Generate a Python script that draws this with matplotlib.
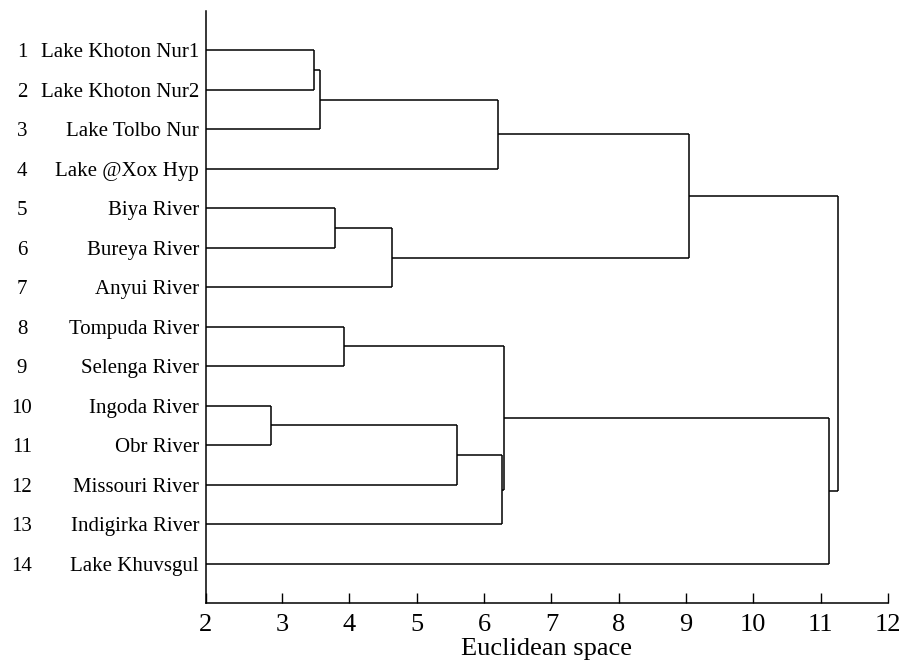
import numpy as np
import matplotlib.pyplot as plt
import matplotlib.transforms as mtransforms

plt.rcParams['font.family'] = ['Liberation Serif', 'DejaVu Serif']

# leaves, top to bottom
names = ['Lake Khoton Nur1', 'Lake Khoton Nur2', 'Lake Tolbo Nur', 'Lake @Xox Hyp',
         'Biya River', 'Bureya River', 'Anyui River', 'Tompuda River',
         'Selenga River', 'Ingoda River', 'Obr River', 'Missouri River',
         'Indigirka River', 'Lake Khuvsgul']
numbers = [str(i) for i in range(1, 15)]

# merges: (left node, right node, distance); new nodes numbered from 14 on
left = [0, 14, 15, 4, 17, 16, 9, 20, 21, 7, 23, 24, 19]
right = [1, 2, 3, 5, 6, 18, 10, 11, 12, 8, 22, 13, 25]
dist = [3.48, 3.56, 6.21, 3.79, 4.63, 9.04, 2.83, 5.60, 6.27, 3.92, 6.29, 11.13, 11.25]

xticks = list(range(2, 13))
x0 = 1.87  # where the drawn axis actually starts

fig = plt.figure(figsize=(9.03, 6.63), dpi=100)
ax = fig.add_axes([206/903, 1-603/663, 682/903, 592/663])

ypos = {i: i + 1 for i in range(len(names))}
xpos = {i: x0 for i in range(len(names))}
node = len(names)
for a, b, h in zip(left, right, dist):
    for c in (a, b):
        ax.plot([xpos[c], h], [ypos[c], ypos[c]], color='black', lw=1.1, solid_capstyle='butt')
    ax.plot([h, h], [ypos[a], ypos[b]], color='black', lw=1.1, solid_capstyle='butt')
    ypos[node] = (ypos[a] + ypos[b]) / 2
    xpos[node] = h
    node += 1

ax.set_xlim(x0, 12)
ax.set_ylim(15, 0)
ax.set_xticks([x0] + xticks[1:])
ax.set_xticklabels([str(t) for t in xticks], fontsize=19)
ax.tick_params(axis='x', direction='in', length=7, width=1, pad=8)
ax.set_yticks(range(1, 15))
ax.set_yticklabels(names, fontsize=15)
ax.tick_params(axis='y', length=0, pad=5)
for lab in ax.get_yticklabels():
    lab.set_verticalalignment('center_baseline')

trans = mtransforms.blended_transform_factory(fig.transFigure, ax.transData)
for i, n in enumerate(numbers):
    ax.text(22/903, i + 1, n, transform=trans, ha='center', va='center_baseline', fontsize=15)

ax.spines['top'].set_visible(False)
ax.spines['right'].set_visible(False)
ax.spines['left'].set_linewidth(1.1)
ax.spines['bottom'].set_linewidth(1.1)
ax.set_xlabel('Euclidean space', fontsize=19, labelpad=1)

plt.savefig('out.png', dpi=100)
